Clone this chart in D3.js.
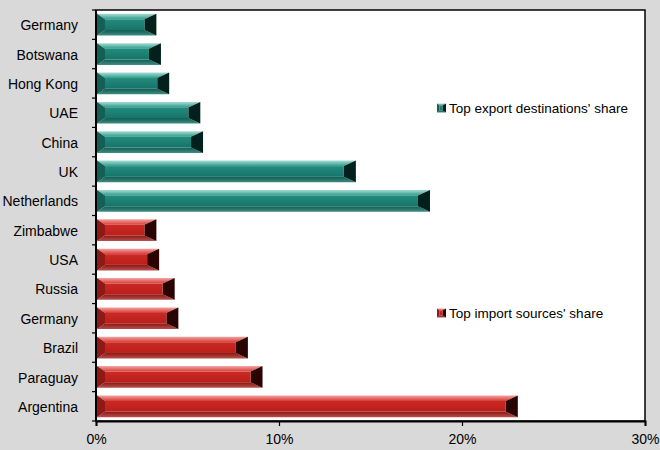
<!DOCTYPE html>
<html><head><meta charset="utf-8">
<script src="https://cdn.jsdelivr.net/npm/d3@7"></script>
<style>html,body{margin:0;padding:0;background:#d9d9d9;}svg{display:block;}</style>
</head><body><div id="chart"></div>
<script>
const categories = ["Germany","Botswana","Hong Kong","UAE","China","UK","Netherlands","Zimbabwe","USA","Russia","Germany","Brazil","Paraguay","Argentina"];
const groups = ["export","export","export","export","export","export","export","import","import","import","import","import","import","import"];
const values = [3.3,3.55,4.0,5.7,5.85,14.2,18.25,3.3,3.45,4.3,4.5,8.3,9.1,23.05];
const tickValues = [0,10,20,30];
const legendLabels = {export:"Top export destinations' share", import:"Top import sources' share"};

const W=660,H=450, m={l:96,r:15,t:10,b:29};
const svg=d3.select("#chart").append("svg").attr("width",W).attr("height",H);
svg.append("rect").attr("width",W).attr("height",H).attr("fill","#d9d9d9");
const x=d3.scaleLinear().domain([0,30]).range([m.l,W-m.r]);
const y=d3.scaleBand().domain(d3.range(categories.length)).range([m.t,H-m.b]).paddingInner(0.26).paddingOuter(0.13);

const pal={
 export:{top0:"#a6dcd3",top1:"#2c9c8c",face0:"#228b7d",face1:"#177468",bot0:"#0f5c53",bot1:"#3f8c82",left:"#145f56",right:"#04201c"},
 import:{top0:"#f3a3a0",top1:"#d63c36",face0:"#cc2924",face1:"#b91f1b",bot0:"#8a1714",bot1:"#b8504c",left:"#8e1915",right:"#2a0403"}
};
const defs=svg.append("defs");
Object.entries(pal).forEach(([k,p])=>{
  const mk=(id,c0,c1)=>{const g=defs.append("linearGradient").attr("id",id).attr("x1",0).attr("y1",0).attr("x2",0).attr("y2",1);
    g.append("stop").attr("offset","0%").attr("stop-color",c0);g.append("stop").attr("offset","100%").attr("stop-color",c1);};
  mk(k+"-top",p.top0,p.top1);mk(k+"-face",p.face0,p.face1);mk(k+"-bot",p.bot0,p.bot1);
});

const plot=svg.append("g");
plot.append("rect").attr("x",m.l).attr("y",m.t).attr("width",W-m.r-m.l).attr("height",H-m.b-m.t).attr("fill","#fff").attr("stroke","#000").attr("stroke-width",1.5);

function bevel(g,x0,x1,y0,h,k,dl,dt,dr){
  const y1=y0+h, p=pal[k];
  const ix0=x0+dl, ix1=Math.max(ix0,x1-dr), iy0=y0+dt, iy1=y1-dt;
  const poly=(pts,fill)=>g.append("polygon").attr("points",pts.map(d=>d.join(",")).join(" ")).attr("fill",fill);
  poly([[x0,y0],[x1,y0],[ix1,iy0],[ix0,iy0]],`url(#${k}-top)`);
  poly([[x0,y1],[x1,y1],[ix1,iy1],[ix0,iy1]],`url(#${k}-bot)`);
  poly([[x0,y0],[ix0,iy0],[ix0,iy1],[x0,y1]],p.left);
  poly([[x1,y0],[ix1,iy0],[ix1,iy1],[x1,y1]],p.right);
  g.append("rect").attr("x",ix0).attr("y",iy0).attr("width",ix1-ix0).attr("height",iy1-iy0).attr("fill",`url(#${k}-face)`);
}

const bars=plot.append("g");
values.forEach((v,i)=>{
  const g=bars.append("g");
  bevel(g,x(0)+1,x(v),y(i),y.bandwidth(),groups[i],8,5.5,12);
});

// y axis
const yAxis=svg.append("g");
categories.forEach((c,i)=>{
  const cy=y(i)+y.bandwidth()/2;
  yAxis.append("text").attr("x",78).attr("y",cy).attr("dy","0.4em").attr("text-anchor","end")
   .attr("font-family","Liberation Sans, Arial, sans-serif").attr("font-size",14).attr("fill","#000").text(c);
});
d3.range(categories.length+1).forEach(i=>{
  const ty = m.t + i*(H-m.b-m.t)/categories.length;
  yAxis.append("line").attr("x1",m.l-4).attr("x2",m.l).attr("y1",ty).attr("y2",ty).attr("stroke","#000").attr("stroke-width",1.2);
});
svg.append("line").attr("x1",m.l).attr("x2",m.l).attr("y1",m.t).attr("y2",H-m.b).attr("stroke","#000").attr("stroke-width",2);

const xAxis=svg.append("g").attr("transform",`translate(0,${H-m.b})`)
  .call(d3.axisBottom(x).tickValues(tickValues).tickFormat(d=>d+"%").tickSize(5).tickPadding(8));
xAxis.select(".domain").attr("stroke","#000").attr("stroke-width",2);
xAxis.selectAll(".tick line").attr("stroke","#000").attr("stroke-width",1.2);
xAxis.selectAll(".tick text").attr("font-family","Liberation Sans, Arial, sans-serif").attr("font-size",14).attr("fill","#000");

// legend
const leg=[["export",108],["import",313]];
leg.forEach(([k,ly])=>{
  const g=svg.append("g");
  bevel(g,437,446,ly-4.5,9,k,2.5,2,3.5);
  g.append("text").attr("x",449).attr("y",ly).attr("dy","0.35em")
   .attr("font-family","Liberation Sans, Arial, sans-serif").attr("font-size",13.5).attr("fill","#000").text(legendLabels[k]);
});
</script></body></html>
